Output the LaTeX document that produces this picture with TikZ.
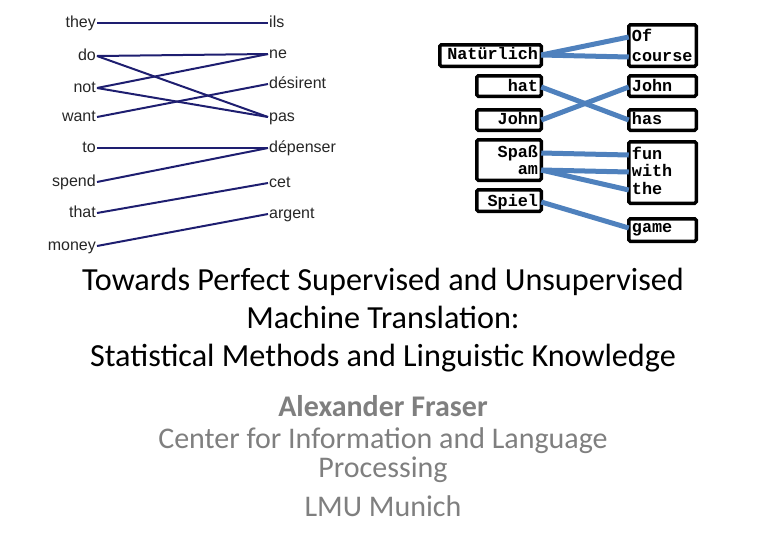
\documentclass[tikz,border=0pt]{standalone}
\usepackage{fontspec}
\setmainfont{Carlito}
\newfontfamily\arialfont{Liberation Sans}
\newfontfamily\courierfont{Liberation Mono}
\usepackage{tikz}
\usetikzlibrary{positioning}
\definecolor{navy}{HTML}{1E1E70}
\definecolor{ppblue}{HTML}{4F81BD}
\definecolor{subgray}{HTML}{7F7F7F}

\begin{document}
\begin{tikzpicture}[x=1pt, y=-1pt,
	srcword/.style={anchor=east, inner sep=1pt, text height=9pt, text depth=0pt, text=black!85, font=\arialfont\fontsize{16}{16}\selectfont},
	tgtword/.style={srcword, anchor=west},
	navylink/.style={draw=navy, line width=2pt},
	wordbox/.style={draw=black, line width=3.5pt, rounded corners=1.5pt, inner sep=0pt},
	deword/.style={anchor=east, inner xsep=3pt, inner ysep=0pt, text height=9pt, text depth=1pt, font=\courierfont\bfseries\fontsize{16.8}{16.8}\selectfont},
	enword/.style={deword, anchor=west},
	bluelink/.style={draw=ppblue, line width=5pt}]
	\useasboundingbox (0,0) rectangle (766,539);

	% word alignment, English - French
	\node[srcword] (they) at (97,23) {they};
	\node[srcword] (do) at (97,56) {do};
	\node[srcword] (not) at (97,88) {not};
	\node[srcword] (want) at (97,117) {want};
	\node[srcword] (to) at (97,148) {to};
	\node[srcword] (spend) at (97,182) {spend};
	\node[srcword] (that) at (97,213) {that};
	\node[srcword] (money) at (97,246) {money};
	\node[tgtword] (ils) at (268,23) {ils};
	\node[tgtword] (ne) at (268,54) {ne};
	\node[tgtword] (desirent) at (268,84) {désirent};
	\node[tgtword] (pas) at (268,117) {pas};
	\node[tgtword] (depenser) at (268,148) {dépenser};
	\node[tgtword] (cet) at (268,183) {cet};
	\node[tgtword] (argent) at (268,214) {argent};

	\path[navylink] (they.east) edge (ils.west)
	         (do.east) edge (ne.west)
	         (do.east) edge (pas.west)
	         (not.east) edge (ne.west)
	         (not.east) edge (pas.west)
	         (want.east) edge (desirent.west)
	         (to.east) edge (depenser.west)
	         (spend.east) edge (depenser.west)
	         (that.east) edge (cet.west)
	         (money.east) edge (argent.west);

	% phrase alignment, German - English
	\node[wordbox, minimum width=101.5, minimum height=21.5] (natbox) at (490.5,55.5) {};
	\node[wordbox, minimum width=64.5, minimum height=20.5] (hatbox) at (509,86) {};
	\node[wordbox, minimum width=64.5, minimum height=20.5] (johndebox) at (509,120) {};
	\node[wordbox, minimum width=64.5, minimum height=40.5] (spambox) at (509,160) {};
	\node[wordbox, minimum width=64.5, minimum height=21.5] (spielbox) at (509,200.5) {};
	\node[wordbox, minimum width=67.5, minimum height=41.5] (ofbox) at (662.5,45.5) {};
	\node[wordbox, minimum width=67.5, minimum height=20.5] (johnenbox) at (662.5,86) {};
	\node[wordbox, minimum width=67.5, minimum height=20.5] (hasbox) at (662.5,120) {};
	\node[wordbox, minimum width=67.5, minimum height=61.5] (funbox) at (662.5,172.5) {};
	\node[wordbox, minimum width=67.5, minimum height=22.5] (gamebox) at (662.5,230) {};

	\node[deword] (nat) at (541.25,55) {Natürlich};
	\node[deword] (hat) at (541.25,87) {hat};
	\node[deword] (johnde) at (541.25,120) {John};
	\node[deword] (spass) at (541.25,153) {Spaß};
	\node[deword] (am) at (541.25,170) {am};
	\node[deword] (spiel) at (541.25,202) {Spiel};
	\node[enword] (of) at (628.75,37) {Of};
	\node[enword] (course) at (628.75,57) {course};
	\node[enword] (johnen) at (628.75,87) {John};
	\node[enword] (has) at (628.75,120) {has};
	\node[enword] (fun) at (628.75,155) {fun};
	\node[enword] (with) at (628.75,172) {with};
	\node[enword] (the) at (628.75,190) {the};
	\node[enword] (game) at (628.75,228) {game};

	\path[bluelink] (nat.east) edge (of.west)
	         (nat.east) edge (course.west)
	         (hat.east) edge (has.west)
	         (johnde.east) edge (johnen.west)
	         (spass.east) edge (fun.west)
	         (am.east) edge (with.west)
	         (am.east) edge (the.west)
	         (spiel.east) edge (game.west);

	% title and author
	\node[align=center, font=\fontsize{32.2}{38}\selectfont] (title) at (383,320) {Towards Perfect Supervised and Unsupervised\\Machine Translation:\\Statistical Methods and Linguistic Knowledge};
	\node[text=subgray, font=\bfseries\fontsize{30}{29}\selectfont] (author) at (383,406) {Alexander Fraser};
	\node[text=subgray, align=center, font=\fontsize{30}{29}\selectfont] (affil) at (383,455.5) {Center for Information and Language\\Processing};
	\node[text=subgray, font=\fontsize{30}{29}\selectfont] (inst) at (383,506) {LMU Munich};
\end{tikzpicture}
\end{document}
